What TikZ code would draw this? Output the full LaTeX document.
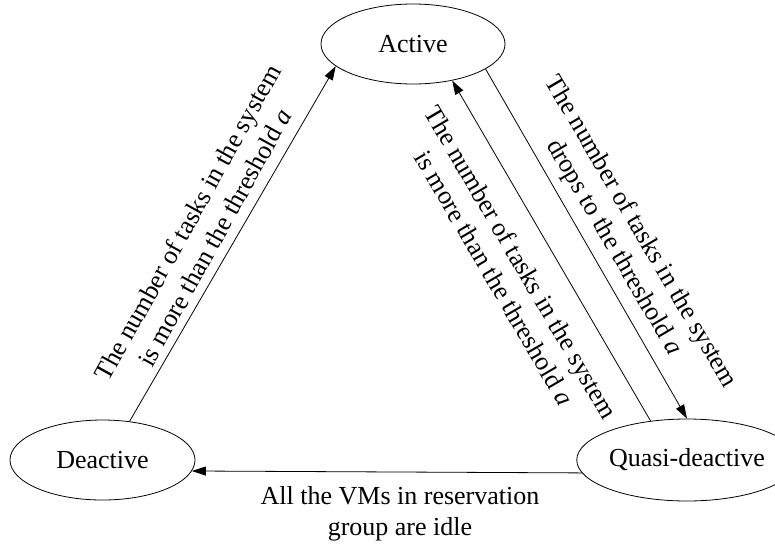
\documentclass[tikz,border=0pt]{standalone}
\usepackage{fontspec}
\setmainfont{Liberation Serif}
\usetikzlibrary{shapes.geometric,arrows.meta}
\begin{document}
\begin{tikzpicture}[x=1pt,y=-1pt,
  state/.style={draw,ellipse,line width=0.8pt,inner sep=0pt,font=\fontsize{26}{31}\selectfont},
  conn/.style={line width=0.8pt,-{Triangle[length=14pt,width=9pt]}},
  lbl/.style={align=center,inner sep=0pt,font=\fontsize{26}{31}\selectfont}]
\useasboundingbox (0,0) rectangle (775,549);
\node[state,minimum width=184pt,minimum height=80pt] (A) at (413,44) {Active};
\node[state,minimum width=185pt,minimum height=80pt] (D) at (102.5,460) {Deactive};
\node[state,minimum width=180pt,minimum height=82pt] (Q) at (687,460) {Quasi-deactive};
\draw[conn] (D.55.5) -- (A.196);
\draw[conn] (A.341) -- (Q.90);
\draw[conn] (Q.133) -- (A.317);
\draw[conn] (Q.187.95) -- (D.-7.75);
\node[lbl,rotate=61] (l1) at (201,230) {The number of tasks in the system\\is more than the threshold \textit{a}};
\node[lbl,rotate=-59.7] (l2) at (627,240) {The number of tasks in the system\\drops to the threshold \textit{a}};
\node[lbl,rotate=-59.7] (l3) at (508,270) {The number of tasks in the system\\is more than the threshold \textit{a}};
\node[lbl] (l4) at (400,514) {All the VMs in reservation\\group are idle};
\end{tikzpicture}
\end{document}
